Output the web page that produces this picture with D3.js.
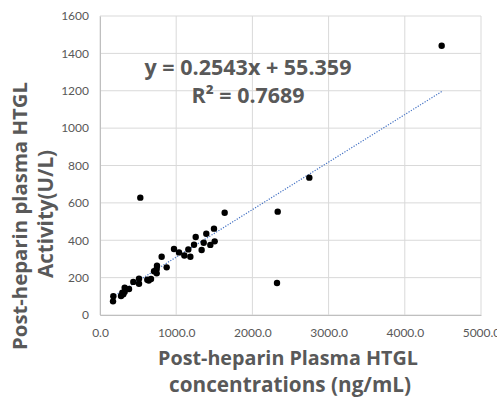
<!DOCTYPE html>
<html>
<head>
<meta charset="utf-8">
<script src="https://cdn.jsdelivr.net/npm/d3@7"></script>
<style>
  body { margin: 0; background: #fff; }
  text { font-family: "Open Sans", Lato, sans-serif; }
</style>
</head>
<body>
<div id="chart"></div>
<script>
// HTGL concentration (ng/mL) vs activity (U/L)
var concentration = [529, 2747, 2332, 2323, 1636, 1496, 1395, 1256, 1505, 1448,
  1361, 1234, 1334, 1159, 1107, 1186, 1037, 971, 809, 875,
  748, 744, 709, 744, 669, 621, 639, 512, 512, 437,
  381, 324, 324, 293, 276, 306, 175, 171, 4484];
var activity = [628, 735, 553, 171, 547, 462, 435, 417, 394, 375,
  387, 376, 348, 351, 318, 312, 335, 353, 312, 255,
  264, 246, 234, 223, 193, 189, 184, 194, 167, 177,
  139, 146, 125, 119, 102, 111, 100, 73, 1441];
var slope = 0.2543, intercept = 55.359;
var xTicks = [0, 1000, 2000, 3000, 4000, 5000];
var yTicks = [0, 200, 400, 600, 800, 1000, 1200, 1400, 1600];

var W = 497, H = 400;

var svg = d3.select("#chart").append("svg")
    .attr("width", W).attr("height", H);

var x = d3.scaleLinear().domain([0, 5000]).range([100, 481]);
var y = d3.scaleLinear().domain([0, 1600]).range([315, 16]);

// gridlines
svg.append("g").selectAll("line").data(yTicks).enter().append("line")
    .attr("x1", x(0)).attr("x2", x(5000))
    .attr("y1", function(d){ return y(d); }).attr("y2", function(d){ return y(d); })
    .attr("stroke", "#d9d9d9").attr("stroke-width", 1);
svg.append("g").selectAll("line").data(xTicks).enter().append("line")
    .attr("y1", y(0)).attr("y2", y(1600))
    .attr("x1", function(d){ return x(d); }).attr("x2", function(d){ return x(d); })
    .attr("stroke", "#d9d9d9").attr("stroke-width", 1);

// axes
var xAxis = d3.axisBottom(x).tickValues(xTicks).tickSize(0).tickPadding(13)
    .tickFormat(function(d){ return d.toFixed(1); });
var yAxis = d3.axisLeft(y).tickValues(yTicks).tickSize(0).tickPadding(11)
    .tickFormat(d3.format("d"));

var gx = svg.append("g").attr("transform", "translate(0," + y(0) + ")").call(xAxis);
var gy = svg.append("g").attr("transform", "translate(" + x(0) + ",0)").call(yAxis);
[gx, gy].forEach(function(g){
  g.select(".domain").attr("stroke", "#bfbfbf");
  g.selectAll("text").attr("fill", "#595959").style("font-size", "12px")
    .style("font-family", "Lato, sans-serif");
});

// trendline
var xmin = d3.min(concentration), xmax = d3.max(concentration);
svg.append("line")
    .attr("x1", x(xmin)).attr("y1", y(slope * xmin + intercept))
    .attr("x2", x(xmax)).attr("y2", y(slope * xmax + intercept))
    .attr("stroke", "#4472c4").attr("stroke-width", 1.2)
    .attr("stroke-dasharray", "1.2,1.5");

// points
svg.append("g").selectAll("circle").data(concentration).enter().append("circle")
    .attr("cx", function(d){ return x(d); })
    .attr("cy", function(d, i){ return y(activity[i]); })
    .attr("r", 3.2)
    .attr("fill", "#000");

// bold grey label, sized so its width matches the target width
function label(str, tx, ty, rot, target) {
  var t = svg.append("text")
      .attr("transform", "translate(" + tx + "," + ty + ")" + (rot ? " rotate(-90)" : ""))
      .attr("text-anchor", "middle")
      .attr("fill", "#595959").style("font-size", "20px").style("font-weight", "bold")
      .text(str);
  var w = t.node().getComputedTextLength();
  t.style("font-size", (20 * target / w).toFixed(2) + "px");
  return t;
}

// equation
label("y = 0.2543x + 55.359", 248, 75, false, 207);
label("R² = 0.7689", 248, 103, false, 113);

// axis titles
label("Post-heparin Plasma HTGL", 288, 365, false, 260);
label("concentrations (ng/mL)", 290, 392, false, 242);
label("Post-heparin plasma HTGL", 27, 216, true, 268);
label("Activity(U/L)", 53, 214, true, 128);
</script>
</body>
</html>
